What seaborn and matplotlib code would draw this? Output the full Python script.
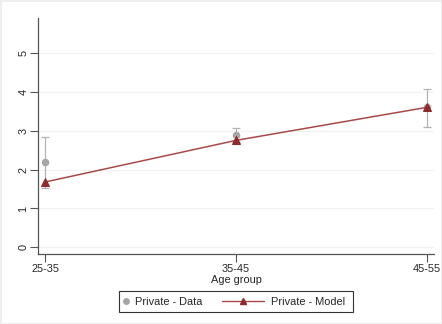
import matplotlib
matplotlib.use("Agg")
import matplotlib.pyplot as plt
import seaborn as sns
import pandas as pd
import numpy as np
from matplotlib.lines import Line2D
from matplotlib.patches import Rectangle

# Age groups on the horizontal axis
age_groups = ["25-35", "35-45", "45-55"]

# Observed values with confidence bounds
data_mean = [2.19, 2.89, 3.60]
data_low = [1.53, 2.72, 3.10]
data_high = [2.84, 3.08, 4.08]

# Model predictions
model_vals = [1.68, 2.75, 3.60]

y_ticks = [0, 1, 2, 3, 4, 5]
legend_labels = ["Private - Data", "Private - Model"]

sns.set_theme(style="white")
plt.rcParams["font.family"] = ["Liberation Sans", "DejaVu Sans"]

df = pd.DataFrame({
    "pos": np.arange(len(age_groups)),
    "group": age_groups,
    "data": data_mean,
    "low": data_low,
    "high": data_high,
    "model": model_vals,
})

fig = plt.figure(figsize=(4.42, 3.24), dpi=100)
fig.patch.set_facecolor("white")
fig.patch.set_edgecolor("#eeeeee")
fig.patch.set_linewidth(1.0)
ax = fig.add_axes([0.0867, 0.216, 0.8953, 0.729])

gray = "#a6a6a6"
bar_gray = "#b3b3b3"
maroon = "#8c2a2e"
line_red = "#a84a4a"
fs = 7.9

for y in y_ticks:
    ax.axhline(y, color="#eef2f2", lw=0.8, zorder=0)

ax.errorbar(df["pos"], df["data"],
            yerr=[df["data"] - df["low"], df["high"] - df["data"]],
            fmt="none", ecolor=bar_gray, elinewidth=0.9, capsize=3.2,
            capthick=0.9, zorder=2)
sns.scatterplot(data=df, x="pos", y="data", ax=ax, color=gray, s=30,
                edgecolor=gray, linewidth=0, zorder=3, legend=False)
sns.lineplot(data=df, x="pos", y="model", ax=ax, color=line_red, lw=1.1,
             marker="^", markersize=5.5, markerfacecolor=maroon,
             markeredgecolor=maroon, zorder=4, legend=False)

ax.set_xlim(-0.035, 2.037)
ax.set_ylim(-0.17, 5.9)
ax.set_xticks(df["pos"])
ax.set_xticklabels(age_groups)
ax.set_yticks(y_ticks)
ax.set_yticklabels([str(v) for v in y_ticks], rotation=90, va="center")
ax.tick_params(axis="both", labelsize=fs, length=5.5, width=0.8,
               color="#555555", direction="out", bottom=True, left=True,
               pad=1.5)
ax.set_xlabel("Age group", fontsize=fs, labelpad=1)
ax.set_ylabel("")

for side in ["top", "right"]:
    ax.spines[side].set_visible(False)
for side in ["left", "bottom"]:
    ax.spines[side].set_color("#555555")
    ax.spines[side].set_linewidth(0.9)

# Legend: a shared frame holding two entries with different handle lengths
fig.patches.append(Rectangle((0.2692, 0.037), 0.5294, 0.0648,
                             transform=fig.transFigure, fill=False,
                             edgecolor="#333333", lw=0.8))
h_data = Line2D([], [], linestyle="none", marker="o", markersize=5,
                color=gray, markeredgewidth=0)
h_model = Line2D([], [], color=line_red, lw=1.0, marker="^", markersize=4.5,
                 markerfacecolor=maroon, markeredgecolor=maroon)
leg1 = fig.legend([h_data], [legend_labels[0]], loc="center left",
                  bbox_to_anchor=(0.276, 0.0694), frameon=False,
                  fontsize=fs, handlelength=0.8, handletextpad=0.4,
                  borderpad=0, borderaxespad=0)
leg2 = fig.legend([h_model], [legend_labels[1]], loc="center left",
                  bbox_to_anchor=(0.5023, 0.0694), frameon=False,
                  fontsize=fs, handlelength=3.8, handletextpad=0.65,
                  borderpad=0, borderaxespad=0)

fig.savefig("out.png", dpi=100, facecolor=fig.get_facecolor(),
            edgecolor=fig.get_edgecolor())
